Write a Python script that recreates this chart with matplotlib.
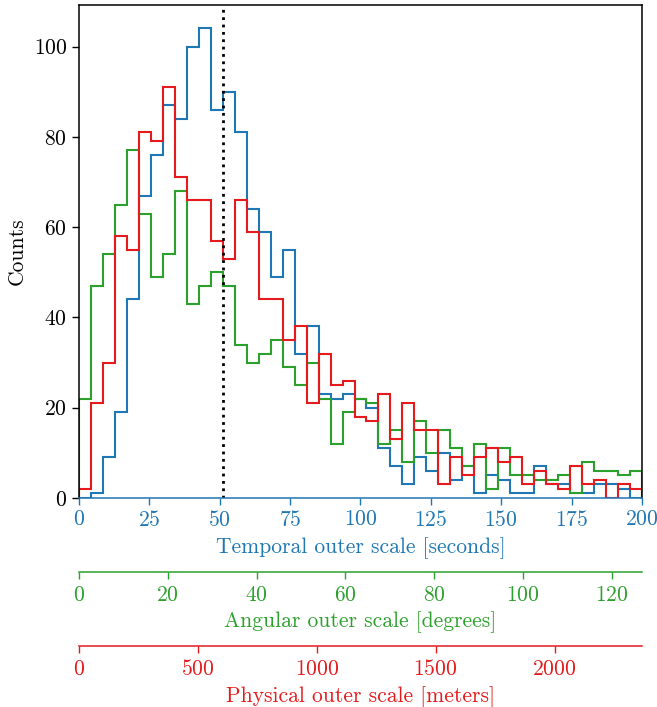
import numpy as np
import matplotlib
matplotlib.use("Agg")
import matplotlib.pyplot as plt

# shared bin edges (seconds)
edges = np.linspace(0, 200, 48)

# counts per bin
temporal_counts = [0, 1, 9, 19, 44, 67, 76, 87, 84, 100, 104, 86, 90, 81, 64, 59,
                   49, 55, 32, 38, 23, 22, 23, 22, 20, 11, 7, 3, 9, 6, 10, 4,
                   7, 1, 5, 4, 1, 1, 7, 3, 3, 1, 1, 3, 3, 2, 0]
angular_counts = [22, 47, 54, 65, 77, 63, 49, 54, 68, 43, 47, 50, 47, 34, 30, 32,
                  35, 29, 25, 30, 22, 12, 19, 22, 21, 12, 15, 8, 17, 10, 15, 11,
                  7, 12, 2, 11, 5, 5, 4, 4, 5, 1, 8, 6, 6, 5, 6]
physical_counts = [2, 21, 30, 58, 55, 81, 79, 91, 71, 66, 66, 57, 53, 66, 59, 44,
                   44, 35, 38, 21, 32, 25, 26, 18, 17, 23, 13, 21, 15, 15, 3, 9,
                   5, 9, 11, 8, 9, 3, 6, 3, 2, 7, 3, 4, 0, 3, 2]

median_time = 51

# unit conversions for the extra axes
deg_per_sec = 0.6343
m_per_sec = 11.84
deg_ticks = [0, 20, 40, 60, 80, 100, 120]
m_ticks = [0, 500, 1000, 1500, 2000]

blue = "#1f77b4"
green = "#2ca02c"
red = "#e41a1c"

plt.rcParams["font.family"] = "cmr10"
plt.rcParams["axes.formatter.use_mathtext"] = True
plt.rcParams["font.size"] = 15.5

fig = plt.figure(figsize=(6.57, 7.07), dpi=100)
ax = fig.add_axes([0.1202, 0.2956, 0.857, 0.6973])

ax.stairs(temporal_counts, edges, color=blue, lw=1.5)
ax.stairs(angular_counts, edges, color=green, lw=1.5)
ax.stairs(physical_counts, edges, color=red, lw=1.5)
ax.axvline(median_time, color="k", ls=":", lw=2)

ax.set_xlim(0, 200)
ax.set_ylim(0, 109.2)
ax.set_ylabel("Counts", labelpad=5)

for s in ax.spines.values():
    s.set_linewidth(1.1)
ax.spines["bottom"].set_color(blue)
ax.tick_params(axis="both", length=5, width=1)
ax.tick_params(axis="x", colors=blue)
ax.set_xlabel("Temporal outer scale [seconds]", color=blue, labelpad=5)

sec1 = ax.secondary_xaxis(-0.15, functions=(lambda t: t * deg_per_sec,
                                            lambda d: d / deg_per_sec))
sec1.set_xticks(deg_ticks)
sec1.spines["bottom"].set_color(green)
sec1.spines["bottom"].set_linewidth(1.1)
sec1.tick_params(colors=green, length=5, width=1, pad=4.5)
sec1.set_xlabel("Angular outer scale [degrees]", color=green, labelpad=5)

sec2 = ax.secondary_xaxis(-0.30, functions=(lambda t: t * m_per_sec,
                                            lambda m: m / m_per_sec))
sec2.set_xticks(m_ticks)
sec2.spines["bottom"].set_color(red)
sec2.spines["bottom"].set_linewidth(1.1)
sec2.tick_params(colors=red, length=5, width=1, pad=4.5)
sec2.set_xlabel("Physical outer scale [meters]", color=red, labelpad=5)

fig.savefig("out.png", dpi=100)
